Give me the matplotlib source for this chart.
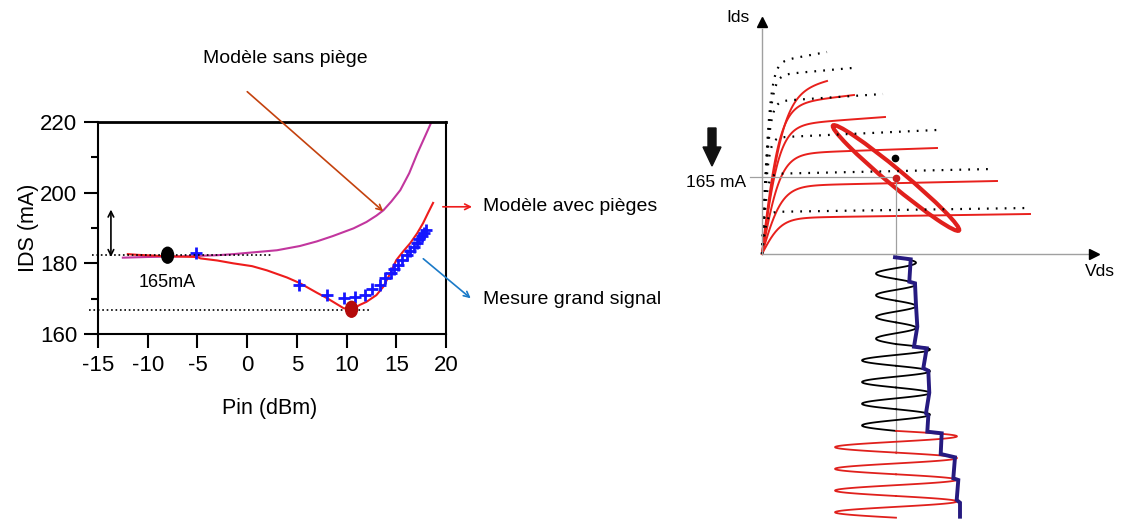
import numpy as np
import matplotlib
matplotlib.use("Agg")
import matplotlib.pyplot as plt
from matplotlib.patches import Ellipse, FancyArrow

plt.rcParams['font.family'] = ['Liberation Sans', 'DejaVu Sans']
plt.rcParams['axes.unicode_minus'] = False

# ---- left chart : IDS vs Pin ----
pin_sans = [-12.5, -10, -6, -3, -1.4, 1, 3, 5.3, 7, 8.6, 10.7, 12, 13, 13.7,
            14.5, 15.4, 16.3, 17.1, 17.9, 18.6]
ids_sans = [181.6, 181.8, 182.0, 182.3, 182.6, 183.2, 183.7, 184.9, 186.2, 187.7,
            189.9, 191.7, 193.5, 195.0, 197.5, 200.7, 205.5, 211.0, 216.0, 220.4]

pin_avec = [-12, -11, -8, -5, -4.7, -3, -1.4, 0.5, 2, 4, 5.3, 7, 8, 9, 9.7, 10.6,
            11.3, 12, 13, 13.7, 14.4, 15, 15.7, 16.4, 17.1, 17.7, 18.2, 18.7]
ids_avec = [182.6, 182.4, 182.0, 181.8, 181.4, 180.8, 180.0, 179.2, 178.0, 176.0,
            174.4, 171.7, 170.2, 168.5, 167.3, 167.0, 168.2, 169.1, 171.0, 173.4,
            177.2, 180.9, 183.4, 185.7, 188.5, 191.4, 194.3, 197.1]

pin_mes = [-5.1, 5.25, 8.0, 9.74, 10.85, 11.9, 12.6, 13.4, 13.9, 14.5, 14.8, 15.2,
           15.6, 16.1, 16.4, 16.8, 17.05, 17.3, 17.55, 17.8, 18.0]
ids_mes = [182.8, 173.9, 171.0, 170.1, 170.4, 171.0, 172.6, 173.9, 175.8, 177.4,
           178.3, 179.5, 180.9, 182.4, 183.5, 184.7, 185.7, 186.8, 187.7, 188.7, 189.4]

repos = (-8.0, 182.3)      # point de repos
repos_rf = (10.5, 167.0)   # point sous signal

fig = plt.figure(figsize=(11.24, 5.2), dpi=100)
ax = fig.add_axes([98/1124, (520-334)/520, 348/1124, 212/520])

ax.plot(pin_sans, ids_sans, color='#c2369e', lw=1.5)
ax.plot(pin_avec, ids_avec, color='#ee1c1c', lw=1.5)
ax.plot(pin_mes, ids_mes, '+', color='#1515ff', ms=8, mew=2)

ax.plot([-15.6, 2.5], [repos[1], repos[1]], ':', color='black', lw=1.2, clip_on=False)
ax.plot([-15.9, 12.3], [166.8, 166.8], ':', color='black', lw=1.2, clip_on=False)
ax.add_patch(Ellipse(repos, 1.2, 4.5, color='black', zorder=5))
ax.add_patch(Ellipse(repos_rf, 1.2, 4.5, color='#b40a0a', zorder=5))
ax.annotate('', xy=(-13.7, 181.0), xytext=(-13.7, 196.0),
            arrowprops=dict(arrowstyle='<->', color='black', lw=1.2))
ax.text(-8, 174.7, '165mA', ha='center', va='center', fontsize=13)

ax.set_xlim(-15, 20)
ax.set_ylim(160, 220)
ax.set_xticks([-15, -10, -5, 0, 5, 10, 15, 20])
ax.set_yticks([160, 180, 200, 220])
ax.set_yticks([170, 190, 210], minor=True)
ax.tick_params(direction='out', length=10, width=1.5, labelsize=16, pad=5)
ax.tick_params(which='minor', length=5, width=1.5)
for s in ax.spines.values():
    s.set_linewidth(1.5)
ax.spines['top'].set_linewidth(2)
ax.set_xlabel('Pin (dBm)', fontsize=15.5)
ax.set_ylabel('IDS (mA)', fontsize=15.5)
ax.xaxis.set_label_coords(0.494, -0.3)
ax.yaxis.set_label_coords(-0.17, 0.5)

ax.annotate('', xy=(13.9, 194.2), xytext=(-0.2, 229.1), annotation_clip=False,
            arrowprops=dict(arrowstyle='->', color='#c4420e', lw=1.2))
ax.text(3.8, 238.1, 'Modèle sans piège', ha='center', va='center', fontsize=14)
ax.annotate('', xy=(22.9, 196.0), xytext=(19.4, 196.0), annotation_clip=False,
            arrowprops=dict(arrowstyle='->', color='#ee1c1c', lw=1.2))
ax.text(23.7, 196.0, 'Modèle avec pièges', ha='left', va='center', fontsize=14)
ax.annotate('', xy=(22.7, 169.6), xytext=(17.5, 181.8), annotation_clip=False,
            arrowprops=dict(arrowstyle='->', color='#1a7ac8', lw=1.2))
ax.text(23.7, 169.9, 'Mesure grand signal', ha='left', va='center', fontsize=14)

# ---- right sketch : Ids(Vds) networks + waveforms ----
# red = model with traps, dotted = without traps
trap_end = [6.5, 9.2, 12.3, 17.5, 23.5, 26.8]
trap_sat = [16.0, 14.8, 12.8, 10.0, 6.8, 3.6]
trap_knee = [2.2, 1.8, 1.8, 1.9, 2.0, 1.9]
trap_vend = [17.3, 15.9, 13.7, 10.6, 7.3, 4.0]

free_end = [6.5, 9.0, 12.1, 17.5, 23.1, 26.6]
free_sat = [19.0, 17.8, 15.2, 11.6, 8.0, 4.2]
free_knee = [0.8, 0.8, 0.7, 0.6, 0.5, 0.5]
free_vend = [20.2, 18.6, 16.0, 12.4, 8.5, 4.6]

q_vds, q_ids = 13.4, 7.7          # bias point
q_dot = (13.3, 9.6)
q_dot_rf = (13.4, 7.6)

loop_center = (13.4, 7.6)
loop_len, loop_wid, loop_ang = 16.4, 1.6, -39.8

wave_amp = [2.0, 2.0, 2.0, 2.0, 3.4, 3.4, 3.4, 3.4, 6.1, 6.1, 6.1, 6.1]
wave_col = ['black'] * 8 + ['#e0201c'] * 4
wave_period = 2.17

env_u = [13.3, 14.87, 14.73, 15.3, 15.4, 15.53, 15.2, 16.47, 16.13, 16.63, 16.73,
         16.4, 16.63, 16.53, 17.97, 17.87, 19.3, 19.13, 19.63, 19.47, 19.8, 19.8]
env_v = [-0.33, -0.53, -2.77, -2.93, -5.1, -7.27, -9.27, -9.43, -11.43, -11.67,
         -13.87, -15.93, -16.2, -17.77, -17.93, -20.0, -20.33, -22.43, -22.6, -24.6,
         -24.87, -26.27]

ax2 = fig.add_axes([690/1124, 0, 434/1124, 1])
ax2.set_xlim(-7.2, 36.2)
ax2.set_ylim(-26.6, 25.4)
ax2.axis('off')

for e, s, k, ve in zip(trap_end, trap_sat, trap_knee, trap_vend):
    u = np.linspace(0, e, 120)
    slope = (ve - s * np.tanh(e / k)) / e
    ax2.plot(u, s * np.tanh(u / k) + slope * u, color='#e8201c', lw=1.4)
for e, s, k, ve in zip(free_end, free_sat, free_knee, free_vend):
    u = np.linspace(0, e, 200)
    slope = (ve - s * np.tanh(e / k)) / e
    ax2.plot(u, s * np.tanh(u / k) + slope * u, color='black', lw=1.6,
             linestyle=(0, (0.8, 3.2)))

ax2.plot([0, 0], [0, 22.5], color='#a0a0a0', lw=1)
ax2.plot([0, 33.0], [0, 0], color='#a0a0a0', lw=1)
ax2.plot(0, 23.2, marker='^', color='black', ms=7)
ax2.plot(33.2, 0, marker='>', color='black', ms=7)
ax2.text(-2.4, 23.6, 'Ids', ha='center', va='center', fontsize=12.5)
ax2.text(33.8, -1.8, 'Vds', ha='center', va='center', fontsize=12.5)

ax2.plot([-1.2, q_vds], [q_ids, q_ids], color='#a0a0a0', lw=0.9)
ax2.plot([q_vds, q_vds], [q_ids, -19.9], color='#a0a0a0', lw=0.9)
ax2.text(-1.6, 7.1, '165 mA', ha='right', va='center', fontsize=12.5)
ax2.add_patch(FancyArrow(-5.0, 12.6, 0, -3.8, width=0.8, head_width=1.8,
                         head_length=1.9, length_includes_head=True,
                         color='#111111'))

ax2.add_patch(Ellipse(loop_center, loop_len, loop_wid, angle=loop_ang,
                      fill=False, ec='#e0201c', lw=3))
ax2.plot(*q_dot, 'o', color='black', ms=4.5)
ax2.plot(*q_dot_rf, 'o', color='#c81e1e', ms=4.5)

v0 = -0.33
t = np.linspace(0, 1, 60)
for i, (a, c) in enumerate(zip(wave_amp, wave_col)):
    ax2.plot(q_vds + a * np.sin(2 * np.pi * t), v0 - (i + t) * wave_period,
             color=c, lw=1.3)
ax2.plot(env_u, env_v, color='#261a80', lw=2.8, solid_joinstyle='miter')

fig.savefig('out.png', dpi=100)
